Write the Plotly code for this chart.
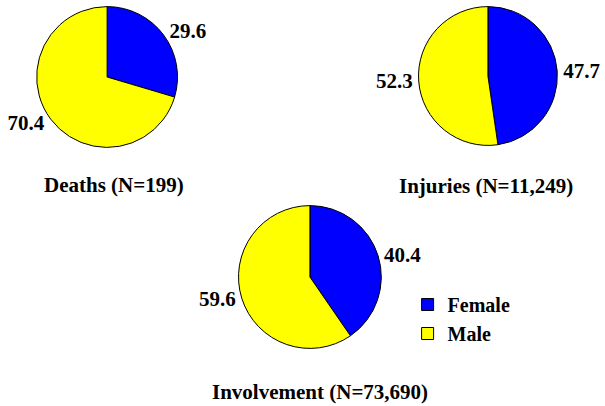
import plotly.graph_objects as go

W, H = 605, 406
labels = ["Female", "Male"]
deaths = [29.6, 70.4]
injuries = [47.7, 52.3]
involvement = [40.4, 59.6]
titles = ["Deaths (N=199)", "Injuries (N=11,249)", "Involvement (N=73,690)"]
colors = ["#0000FF", "#FFFF00"]

FONT = "'Times New Roman', 'Liberation Serif', Times, serif"
FS = 21

def px_dom(cx, cy, r):
    return dict(x=[(cx - r) / W, (cx + r) / W], y=[1 - (cy + r) / H, 1 - (cy - r) / H])

fig = go.Figure()
for vals, dom, show in [(deaths, px_dom(108, 77, 71), True),
                        (injuries, px_dom(492, 76, 70), False),
                        (involvement, px_dom(312.5, 277, 72), False)]:
    fig.add_trace(go.Pie(
        labels=labels, values=vals, sort=False, direction="clockwise", rotation=0,
        marker=dict(colors=colors, line=dict(color="black", width=1)),
        textinfo="text", text=[f"{v:.1f}" for v in vals], textposition="outside",
        textfont=dict(family=FONT, size=FS, color="black", weight="bold"),
        domain=dom, showlegend=show, hoverinfo="label+value",
    ))

for t, (x, y) in zip(titles, [(115, 185), (490, 186), (323, 392)]):
    fig.add_annotation(text=t, x=x / W, y=1 - y / H, xref="paper", yref="paper",
                       showarrow=False,
                       font=dict(family=FONT, size=FS, color="black", weight="bold"),
                       xanchor="center", yanchor="middle")

fig.update_layout(
    width=W, height=H, margin=dict(l=0, r=0, t=0, b=0),
    paper_bgcolor="white", plot_bgcolor="white",
    font=dict(family=FONT, size=FS, color="black"),
    legend=dict(x=411 / W, y=1 - 285 / H, xanchor="left", yanchor="top",
                font=dict(family=FONT, size=20, color="black", weight="bold"),
                bgcolor="rgba(0,0,0,0)", tracegroupgap=0, itemwidth=30),
)
fig.write_html("out.html", config={"displayModeBar": False},
               post_script="document.body.style.margin='0';")
